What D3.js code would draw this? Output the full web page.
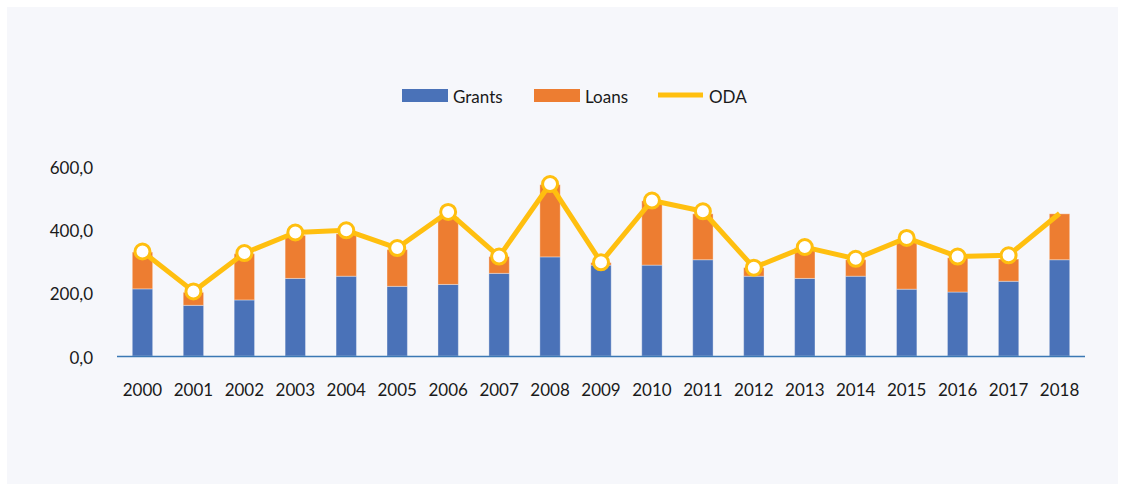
<!DOCTYPE html>
<html>
<head>
<meta charset="utf-8">
<script src="https://cdn.jsdelivr.net/npm/d3@7/dist/d3.min.js"></script>
<style>
  html, body { margin: 0; padding: 0; background: #ffffff; }
  svg { display: block; }
  text { font-family: "Lato", "Open Sans", sans-serif; fill: #1a1a1a; }
</style>
</head>
<body>
<svg id="chart" width="1125" height="489"></svg>
<script>
const years = ["2000","2001","2002","2003","2004","2005","2006","2007","2008","2009","2010","2011","2012","2013","2014","2015","2016","2017","2018"];
const grants = [212, 160, 177, 245, 252, 220, 226, 261, 313, 287, 287, 304, 252, 245, 252, 211, 202, 236, 304];
const loans  = [116, 41, 146, 136, 134, 116, 213, 53, 228, 8, 203, 145, 27, 97, 52, 149, 108, 70, 145];
const oda    = [330, 204, 325, 390, 397, 341, 455, 314, 543, 296, 491, 457, 279, 344, 307, 373, 314, 318, 450];
const yTicks = [0, 200, 400, 600];
const seriesNames = ["Grants", "Loans", "ODA"];
const colors = { Grants: "#4a72b8", Loans: "#ed7d31", ODA: "#ffbf0f" };

const svg = d3.select("#chart");
svg.append("rect").attr("x", 7).attr("y", 7).attr("width", 1111).attr("height", 477).attr("fill", "#f6f7fb");

const x = d3.scaleBand().domain(years).range([117, 1085]).paddingInner(0.6).paddingOuter(0.3);
const y = d3.scaleLinear().domain([0, 600]).range([356, 166]);

// y axis labels
const fmt = v => d3.format(".1f")(v).replace(".", ",");
svg.append("g").selectAll("text").data(yTicks).join("text")
  .attr("x", 93).attr("y", d => y(d) + 7.5)
  .attr("text-anchor", "end").style("font-size", "17px").text(fmt);

// stacked bars
const rows = years.map((yr, i) => ({ year: yr, Grants: grants[i], Loans: loans[i] }));
const stack = d3.stack().keys(["Grants", "Loans"])(rows);
svg.append("g").selectAll("g").data(stack).join("g")
  .attr("fill", d => colors[d.key])
  .selectAll("rect").data(d => d).join("rect")
  .attr("x", d => x(d.data.year))
  .attr("y", d => y(d[1]))
  .attr("width", x.bandwidth())
  .attr("height", d => y(d[0]) - y(d[1]))
  .attr("stroke", "rgba(255,255,255,0.35)").attr("stroke-width", 1);

// x axis baseline
svg.append("line").attr("x1", 117).attr("x2", 1085).attr("y1", 356.5).attr("y2", 356.5)
  .attr("stroke", "#3b78b4").attr("stroke-width", 1.5);

// x labels
svg.append("g").selectAll("text").data(years).join("text")
  .attr("x", d => x(d) + x.bandwidth() / 2).attr("y", 396)
  .attr("text-anchor", "middle").style("font-size", "17px").text(d => d);

// ODA line
const line = d3.line().x((d, i) => x(years[i]) + x.bandwidth() / 2).y(d => y(d));
svg.append("path").datum(oda).attr("d", line)
  .attr("fill", "none").attr("stroke", colors.ODA).attr("stroke-width", 5).attr("stroke-linejoin", "round");
svg.append("g").selectAll("circle").data(oda.slice(0, oda.length - 1)).join("circle")
  .attr("cx", (d, i) => x(years[i]) + x.bandwidth() / 2).attr("cy", d => y(d))
  .attr("r", 7.5).attr("fill", "#ffffff").attr("stroke", colors.ODA).attr("stroke-width", 3);

// legend
const legend = svg.append("g");
const legendPos = [402, 534, 658];
seriesNames.forEach((name, i) => {
  const lx = legendPos[i];
  if (name === "ODA") {
    legend.append("line").attr("x1", lx).attr("x2", lx + 45).attr("y1", 95).attr("y2", 95)
      .attr("stroke", colors.ODA).attr("stroke-width", 5);
  } else {
    legend.append("rect").attr("x", lx).attr("y", 89).attr("width", 46).attr("height", 13).attr("fill", colors[name]);
  }
  legend.append("text").attr("x", lx + 51).attr("y", 102.5)
    .style("font-size", "17px").text(name);
});
</script>
</body>
</html>
